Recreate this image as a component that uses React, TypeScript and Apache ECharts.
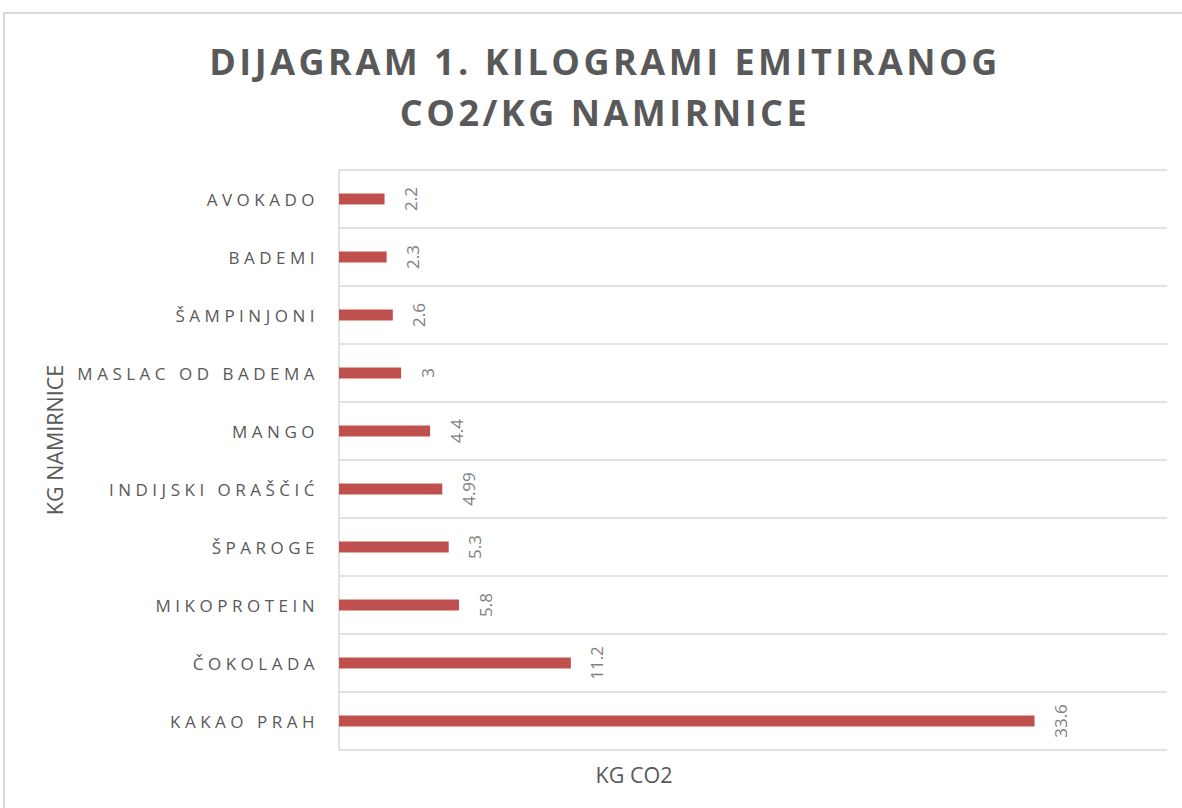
import React, { useEffect, useRef } from "react";
import * as echarts from "echarts";

const titleLines = ["DIJAGRAM 1. KILOGRAMI EMITIRANOG", "CO2/KG NAMIRNICE"];
const categories = [
  "AVOKADO",
  "BADEMI",
  "ŠAMPINJONI",
  "MASLAC OD BADEMA",
  "MANGO",
  "INDIJSKI ORAŠČIĆ",
  "ŠPAROGE",
  "MIKOPROTEIN",
  "ČOKOLADA",
  "KAKAO PRAH",
];
const values = [2.2, 2.3, 2.6, 3, 4.4, 4.99, 5.3, 5.8, 11.2, 33.6];
const yAxisTitle = "KG NAMIRNICE";
const xAxisTitle = "KG CO2";

const FONT = "'Open Sans', 'Noto Sans', sans-serif";

export default function App() {
  const ref = useRef<HTMLDivElement>(null);
  useEffect(() => {
    if (!ref.current) return;
    const el = ref.current;
    const chart = echarts.init(el, undefined, { renderer: "svg" });
    const catSet = new Set(categories);
    const titleSet = new Set(titleLines);
    const applySpacing = () => {
      el.querySelectorAll("text").forEach((t) => {
        const s = (t.textContent || "").trim();
        if (catSet.has(s)) (t as any).style.letterSpacing = "4.5px";
        else if (titleSet.has(s)) (t as any).style.letterSpacing = "3.5px";
      });
    };
    chart.on("rendered", applySpacing);
    chart.setOption({
      animation: false,
      backgroundColor: "#ffffff",
      title: {
        text: titleLines.join("\n"),
        left: 600,
        top: 31,
        textAlign: "center",
        textStyle: {
          fontFamily: FONT,
          fontSize: 36,
          fontWeight: "bold",
          color: "#595959",
          lineHeight: 51,
        },
      },
      grid: { left: 339, top: 170, right: 15, bottom: 58, containLabel: false },
      xAxis: {
        type: "value",
        min: 0,
        max: 40,
        axisLabel: { show: false },
        axisTick: { show: false },
        axisLine: { show: false },
        splitLine: { show: false },
      },
      yAxis: {
        type: "category",
        data: categories,
        inverse: true,
        axisTick: { show: false },
        axisLine: { show: true, lineStyle: { color: "#d9d9d9", width: 1.5 } },
        splitLine: { show: true, lineStyle: { color: "#d9d9d9", width: 1.5 } },
        axisLabel: {
          margin: 20,
          fontFamily: FONT,
          fontSize: 17,
          color: "#595959",
        },
      },
      series: [
        {
          type: "bar",
          data: values,
          barWidth: 11,
          itemStyle: { color: "#c0504d" },
          label: {
            show: true,
            position: "right",
            distance: 26,
            rotate: 90,
            align: "center",
            verticalAlign: "middle",
            fontFamily: FONT,
            fontSize: 17,
            color: "#7f7f7f",
          },
        },
      ],
      graphic: [
        {
          type: "rect",
          shape: { x: 4, y: 13, width: 1250, height: 850 },
          style: { fill: "none", stroke: "#d9d9d9", lineWidth: 2 },
          silent: true,
        },
        {
          type: "text",
          x: 54,
          y: 440,
          rotation: Math.PI / 2,
          style: {
            text: yAxisTitle,
            fontFamily: FONT,
            fontSize: 21.5,
            fill: "#595959",
            align: "center",
            verticalAlign: "middle",
          },
        },
        {
          type: "text",
          x: 634,
          y: 774,
          style: {
            text: xAxisTitle,
            fontFamily: FONT,
            fontSize: 21.5,
            fill: "#595959",
            align: "center",
            verticalAlign: "middle",
          },
        },
      ],
    });
    applySpacing();
    return () => {
      chart.dispose();
    };
  }, []);
  return (
    <div
      ref={ref}
      style={{ position: "fixed", left: 0, top: 0, width: 1182, height: 808 }}
    />
  );
}
